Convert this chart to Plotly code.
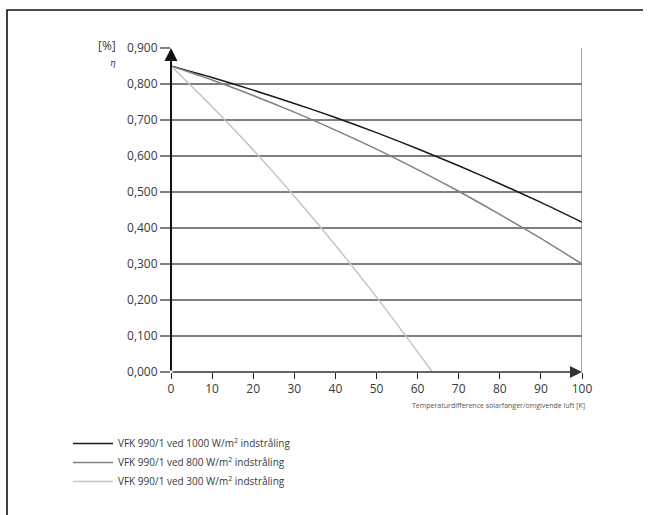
import plotly.graph_objects as go

# Temperature difference collector / ambient air [K]
dT = [0, 10, 20, 30, 40, 50, 60, 70, 80, 90, 100]
eta_1000 = [0.850, 0.818, 0.783, 0.746, 0.707, 0.665, 0.620, 0.573, 0.523, 0.471, 0.416]
eta_800 = [0.850, 0.811, 0.768, 0.722, 0.672, 0.619, 0.562, 0.502, 0.438, 0.371, 0.300]
dT_300 = [0, 10, 20, 30, 40, 50, 60, 63.6]
eta_300 = [0.850, 0.737, 0.617, 0.488, 0.352, 0.208, 0.056, 0.000]

names = [
    "VFK 990/1 ved 1000 W/m<sup>2</sup> indstråling",
    "VFK 990/1 ved 800 W/m<sup>2</sup> indstråling",
    "VFK 990/1 ved 300 W/m<sup>2</sup> indstråling",
]
colors = ["#1a1a1a", "#808080", "#c4c4c4"]

x_ticks = list(range(0, 101, 10))
y_ticks = [0.0, 0.1, 0.2, 0.3, 0.4, 0.5, 0.6, 0.7, 0.8, 0.9]

W, H = 653, 515
L, R, T, B = 171, 71, 48, 143
PW, PH = W - L - R, H - T - B


def px(xp):
    return (xp - L) / PW


def py(yp):
    return (H - B - yp) / PH


FONT = "Open Sans"

fig = go.Figure()
series = [(dT, eta_1000), (dT, eta_800), (dT_300, eta_300)]
for (xs, ys), name, col in zip(series, names, colors):
    fig.add_trace(go.Scatter(
        x=xs, y=ys, mode="lines", name=name,
        line=dict(color=col, width=1.5, shape="spline", smoothing=0.6),
        legendgroup=name,
    ))

fig.update_layout(
    width=W, height=H,
    margin=dict(l=L, r=R, t=T, b=B),
    paper_bgcolor="white", plot_bgcolor="white",
    separators=",.",
    font=dict(family=FONT, size=12, color="#3a3a3a"),
    showlegend=True,
    legend=dict(
        x=px(68), y=py(429), xanchor="left", yanchor="top",
        font=dict(family=FONT, size=10, color="#3a3a3a"),
        itemwidth=40, tracegroupgap=0, bgcolor="rgba(0,0,0,0)",
    ),
)

fig.update_xaxes(
    range=[0, 100], tickvals=x_ticks, ticks="outside", ticklen=6,
    tickcolor="#222", tickwidth=1.3, showgrid=False, zeroline=False,
    showline=False, tickfont=dict(size=12, color="#3a3a3a"), fixedrange=True,
)
fig.update_yaxes(
    range=[0, 0.9], tickvals=y_ticks, tickformat=".3f", ticks="outside",
    ticklen=10, tickcolor="#808080", tickwidth=1.5, showgrid=True,
    gridcolor="#808080", gridwidth=1.5, zeroline=False, showline=False,
    tickfont=dict(size=12, color="#3a3a3a"), fixedrange=True,
)

# Right frame line at 100 K
fig.add_shape(type="line", xref="x", yref="y", x0=100, x1=100, y0=0, y1=0.9,
              line=dict(color="#808080", width=1.5))

# Axes drawn as arrows
fig.add_annotation(x=0, y=0.9, ax=0, ay=0, xref="x", yref="y", axref="x", ayref="y",
                   showarrow=True, arrowhead=2, arrowsize=1.3, arrowwidth=2,
                   arrowcolor="#111", text="")
fig.add_annotation(x=100, y=0, ax=0, ay=0, xref="x", yref="y", axref="x", ayref="y",
                   showarrow=True, arrowhead=2, arrowsize=1.5, arrowwidth=1.6,
                   arrowcolor="#333", text="")

# Axis labels
fig.add_annotation(x=px(587), y=py(405), xref="paper", yref="paper",
                   text="Temperaturdifference solarfanger/omgivende luft [K]",
                   showarrow=False, xanchor="right", yanchor="middle",
                   font=dict(size=7, color="#555"))
fig.add_annotation(x=px(107), y=py(46), xref="paper", yref="paper",
                   text="[%]", showarrow=False, xanchor="center", yanchor="middle",
                   font=dict(size=12, color="#3a3a3a"))
fig.add_annotation(x=px(113), y=py(63), xref="paper", yref="paper",
                   text="<i>η</i>", showarrow=False, xanchor="center", yanchor="middle",
                   font=dict(family="DejaVu Serif", size=9, color="#3a3a3a"))

# Outer frame (top and left edges) as a single open path
x0f, x1f = px(7), px(643)
y0f, y1f = py(10), py(515)
fig.add_shape(type="path", xref="paper", yref="paper",
              path=f"M {x1f} {y0f} L {x0f} {y0f} L {x0f} {y1f}",
              line=dict(color="#111", width=1.6))

fig.write_html("out.html", config={"displayModeBar": False})
